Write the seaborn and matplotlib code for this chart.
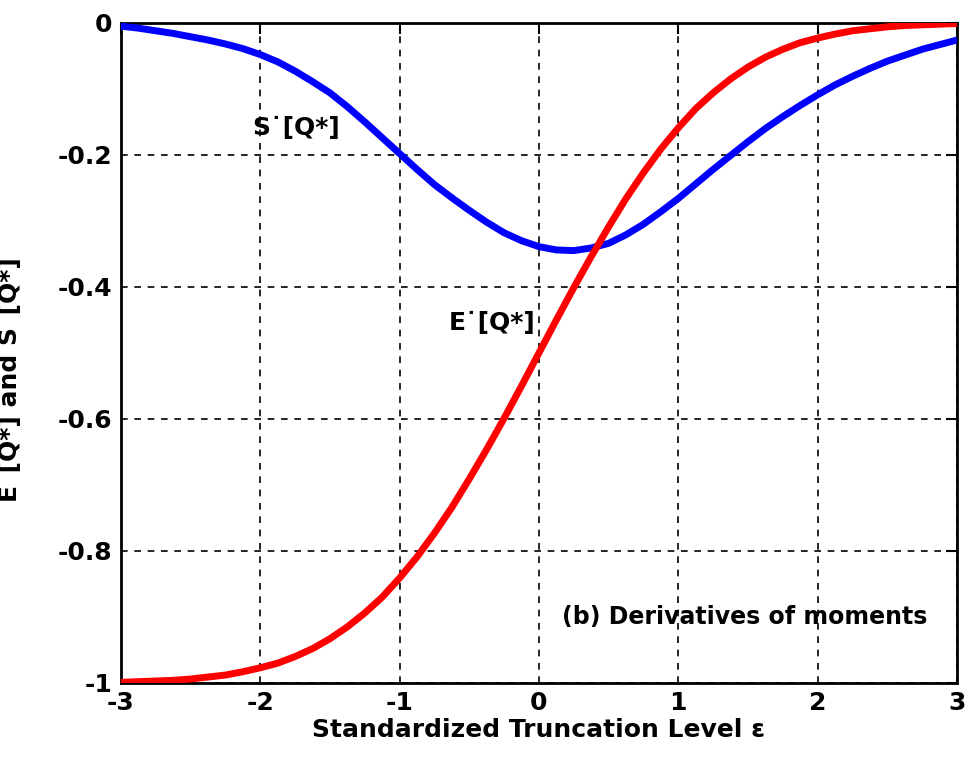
import numpy as np
import pandas as pd
import matplotlib
matplotlib.use("Agg")
import matplotlib.pyplot as plt
import seaborn as sns

# values (step 0.125 in epsilon)
eps = [-3.0, -2.875, -2.75, -2.625, -2.5, -2.375, -2.25, -2.125, -2.0, -1.875, -1.75,
       -1.625, -1.5, -1.375, -1.25, -1.125, -1.0, -0.875, -0.75, -0.625, -0.5, -0.375,
       -0.25, -0.125, 0.0, 0.125, 0.25, 0.375, 0.5, 0.625, 0.75, 0.875, 1.0, 1.125,
       1.25, 1.375, 1.5, 1.625, 1.75, 1.875, 2.0, 2.125, 2.25, 2.375, 2.5, 2.625,
       2.75, 2.875, 3.0]
e_dot = [-0.999, -0.998, -0.997, -0.996, -0.994, -0.991, -0.988, -0.983, -0.977,
         -0.970, -0.960, -0.948, -0.933, -0.915, -0.894, -0.870, -0.841, -0.809,
         -0.773, -0.734, -0.691, -0.646, -0.599, -0.550, -0.500, -0.450, -0.401,
         -0.354, -0.309, -0.266, -0.227, -0.191, -0.159, -0.130, -0.106, -0.085,
         -0.067, -0.052, -0.040, -0.030, -0.023, -0.017, -0.012, -0.009, -0.006,
         -0.004, -0.003, -0.002, -0.001]
s_dot = [-0.005, -0.008, -0.012, -0.016, -0.021, -0.026, -0.032, -0.039, -0.048,
         -0.059, -0.073, -0.089, -0.106, -0.127, -0.150, -0.174, -0.198, -0.222,
         -0.245, -0.265, -0.284, -0.302, -0.318, -0.330, -0.339, -0.344, -0.345,
         -0.341, -0.334, -0.321, -0.305, -0.286, -0.266, -0.244, -0.222, -0.201,
         -0.180, -0.160, -0.142, -0.125, -0.109, -0.094, -0.081, -0.069, -0.058,
         -0.049, -0.040, -0.033, -0.026]
x_ticks = [-3, -2, -1, 0, 1, 2, 3]
y_ticks = [-1, -0.8, -0.6, -0.4, -0.2, 0]
y_tick_labels = ['-1', '-0.8', '-0.6', '-0.4', '-0.2', '0']

sns.set_style("white")
plt.rcParams['font.family'] = ['DejaVu Sans']
plt.rcParams['text.color'] = 'black'
plt.rcParams['axes.labelcolor'] = 'black'
plt.rcParams['xtick.color'] = 'black'
plt.rcParams['ytick.color'] = 'black'

df = pd.DataFrame({'eps': eps, 'E': e_dot, 'S': s_dot})

fig = plt.figure(figsize=(9.67, 7.62), dpi=100)
ax = fig.add_axes([0.125, 0.1037, 0.8647, 0.8663])

sns.lineplot(data=df, x='eps', y='S', ax=ax, color='#0000FF', lw=5, zorder=3)
sns.lineplot(data=df, x='eps', y='E', ax=ax, color='#FF0000', lw=5, zorder=4)

ax.set_xlim(-3, 3)
ax.set_ylim(-1, 0)
ax.set_xticks(x_ticks)
ax.set_xticklabels([str(t) for t in x_ticks])
ax.set_yticks(y_ticks)
ax.set_yticklabels(y_tick_labels)
ax.tick_params(direction='in', length=8, width=1.5, top=True, right=True,
               labelsize=18, pad=6)
for lab in ax.get_xticklabels() + ax.get_yticklabels():
    lab.set_fontweight('bold')
ax.grid(True, color='black', linestyle=(0, (4, 4)), linewidth=1.2)
for sp in ax.spines.values():
    sp.set_color('black')
    sp.set_linewidth(2)

ax.set_xlabel('Standardized Truncation Level \u03b5', fontsize=18, fontweight='bold', labelpad=2)
ax.set_ylabel('E\u02d9[Q*] and S\u02d9[Q*]', fontsize=18, fontweight='bold')
ax.yaxis.set_label_coords(-0.118, 0.459)

ax.text(-2.06, -0.159, 'S\u02d9[Q*]', fontsize=18, fontweight='bold', va='center', ha='left')
ax.text(-0.65, -0.455, 'E\u02d9[Q*]', fontsize=18, fontweight='bold', va='center', ha='left')
ax.text(2.79, -0.90, '(b) Derivatives of moments', fontsize=17, fontweight='bold',
        va='center', ha='right')

fig.savefig('out.png', dpi=100)
